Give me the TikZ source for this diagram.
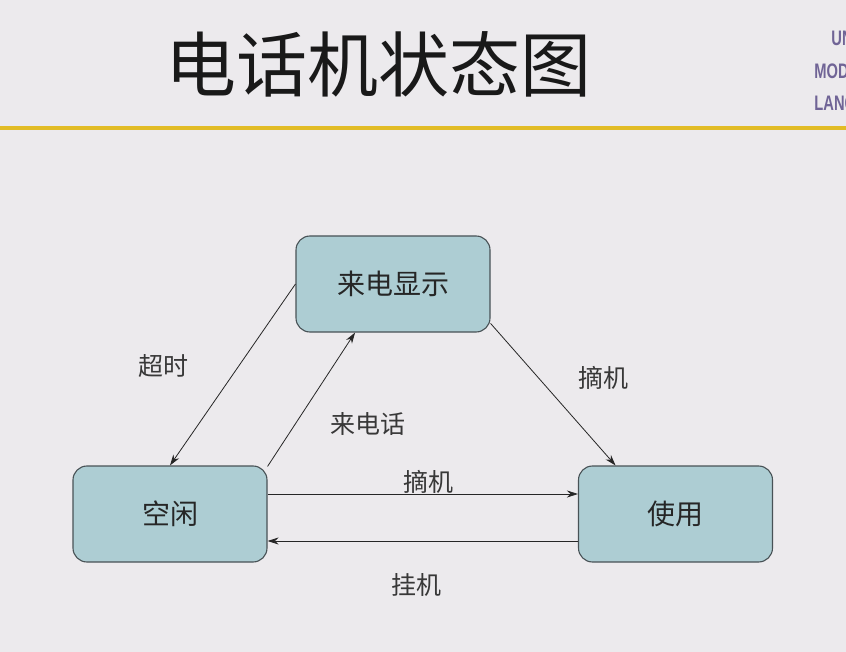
\documentclass[tikz,border=0pt]{standalone}
\usepackage{fontspec}
\setmainfont{Noto Sans CJK SC}
\newfontfamily\umlfont{Liberation Sans}
\usetikzlibrary{arrows.meta}
\definecolor{slidebg}{RGB}{236,234,237}
\definecolor{rulegold}{RGB}{226,188,38}
\definecolor{statefill}{RGB}{173,205,211}
\definecolor{stateline}{RGB}{72,82,86}
\definecolor{umlpurple}{RGB}{112,100,150}
\begin{document}
\begin{tikzpicture}[x=1pt, y=-1pt,
        state/.style={draw=stateline, fill=statefill, line width=1.1pt, rounded corners=14pt,
            minimum width=194pt, minimum height=96pt, font=\fontsize{28}{32}\selectfont, text=black!85},
        trans/.style={draw=black!85, line width=0.8pt, -{Stealth[length=11pt, width=7pt]}},
        lbl/.style={font=\fontsize{25}{30}\selectfont, text=black!78},
        umltext/.style={font=\umlfont\bfseries\fontsize{21}{24}\selectfont, text=umlpurple,
            anchor=west, xscale=0.7, transform shape}]
            \useasboundingbox (0, 0) rectangle (846, 652);
            \clip (0, 0) rectangle (846, 652);
            \fill[slidebg] (0, 0) rectangle (846, 652);
            % Title
            \node[font=\fontsize{71}{80}\selectfont, text=black!90] (title) at (378, 64) {电话机状态图};
            \draw[rulegold, line width=4pt] (0, 128) -- (846, 128);
            \node[umltext] (uml1) at (829, 38) {UNIFIED};
            \node[umltext] (uml2) at (812, 71) {MODELING};
            \node[umltext] (uml3) at (812, 103) {LANGUAGE};
            % States
            \node[state] (show) at (393, 284) {来电显示};
            \node[state] (idle) at (170, 514) {空闲};
            \node[state] (use) at (675.5, 514) {使用};
            % Transitions
            \draw[trans] (show.west) -- (idle.north);
            \draw[trans] (idle.26) -- (show.232);
            \draw[trans] (show.-22) -- (use.141);
            \draw[trans] ([yshift=20pt]idle.east) -- ([yshift=20pt]use.west);
            \draw[trans] ([yshift=-27pt]use.west) -- ([yshift=-27pt]idle.east);
            % Labels
            \node[lbl] (timeout) at (163, 366) {超时};
            \node[lbl] (ring) at (368, 424) {来电话};
            \node[lbl] (pickup1) at (603, 378) {摘机};
            \node[lbl] (pickup2) at (428, 482) {摘机};
            \node[lbl] (hangup) at (416, 585) {挂机};
        \end{tikzpicture}
\end{document}
